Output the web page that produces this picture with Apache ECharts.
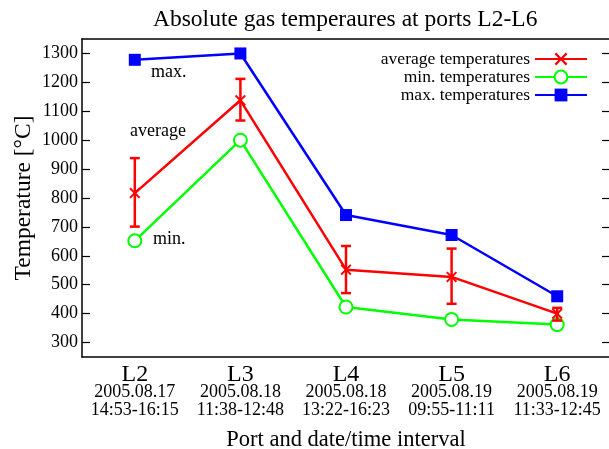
<!DOCTYPE html>
<html>
<head>
<meta charset="utf-8">
<script src="https://cdn.jsdelivr.net/npm/echarts@6/dist/echarts.min.js"></script>
<style>html,body{margin:0;padding:0;background:#fff}#c{width:609px;height:449px}</style>
</head>
<body>
<div id="c"></div>
<script>
const ports = ['L2', 'L3', 'L4', 'L5', 'L6'];
const dates = ['2005.08.17', '2005.08.18', '2005.08.18', '2005.08.19', '2005.08.19'];
const times = ['14:53-16:15', '11:38-12:48', '13:22-16:23', '09:55-11:11', '11:33-12:45'];
const avgTemps = [817, 1138, 552, 527, 400];
const avgLow = [701, 1068, 471, 434, 376];
const avgHigh = [938, 1212, 634, 625, 420];
const minTemps = [652, 1000, 423, 380, 362];
const maxTemps = [1278, 1300, 741, 672, 460];
const yTicks = [300, 400, 500, 600, 700, 800, 900, 1000, 1100, 1200, 1300];

const FONT = '"Liberation Serif", "Times New Roman", serif';
const RED = '#ff0000', GREEN = '#00ff00', BLUE = '#0000ff';
const crossPath = 'path://M0,2.5 L2.5,0 L10,7.5 L17.5,0 L20,2.5 L12.5,10 L20,17.5 L17.5,20 L10,12.5 L2.5,20 L0,17.5 L7.5,10 Z';

const errData = ports.map((p, i) => [i, avgLow[i], avgHigh[i]]);

const chart = echarts.init(document.getElementById('c'), null, {renderer: 'canvas'});
const yAxisCommon = {
  type: 'value', min: 250, max: 1350,
  axisLine: {show: true, lineStyle: {color: '#000', width: 1.5}},
  splitLine: {show: false},
  axisTick: {show: true, inside: true, length: 8, customValues: yTicks, lineStyle: {color: '#000', width: 1.2}}
};
chart.setOption({
  animation: false,
  backgroundColor: '#fff',
  title: {
    text: 'Absolute gas temperaures at ports L2-L6',
    left: 148, top: 3,
    textStyle: {fontFamily: FONT, fontSize: 23.5, fontWeight: 'normal', color: '#000'}
  },
  grid: {left: 82, top: 39, width: 528, height: 318, outerBoundsMode: 'none'},
  legend: {
    data: ['average temperatures', 'min. temperatures', 'max. temperatures'],
    orient: 'vertical', right: 16, top: 45, align: 'right',
    itemWidth: 52, itemHeight: 16, itemGap: 0,
    textStyle: {fontFamily: FONT, fontSize: 17.5, lineHeight: 18, color: '#000'}
  },
  xAxis: [{
    type: 'category', data: ports, position: 'bottom',
    axisLine: {lineStyle: {color: '#000', width: 1.5}},
    axisTick: {inside: true, alignWithLabel: true, length: 8, lineStyle: {color: '#000', width: 1.2}},
    axisLabel: {
      margin: 9, interval: 0,
      formatter: (v, i) => '{a|' + v + '}\n{b|' + dates[i] + '}\n{b|' + times[i] + '}',
      rich: {
        a: {fontFamily: FONT, fontSize: 24, lineHeight: 17, color: '#000'},
        b: {fontFamily: FONT, fontSize: 18, lineHeight: 18, color: '#000'}
      }
    },
    name: 'Port and date/time interval', nameLocation: 'middle', nameGap: 72, nameMoveOverlap: false,
    nameTextStyle: {fontFamily: FONT, fontSize: 22.5, color: '#000'}
  }, {
    type: 'category', data: ports, position: 'top',
    axisLine: {lineStyle: {color: '#000', width: 1.5}},
    axisTick: {inside: true, alignWithLabel: true, length: 8, lineStyle: {color: '#000', width: 1.2}},
    axisLabel: {show: false}
  }],
  yAxis: [Object.assign({}, yAxisCommon, {
    position: 'left',
    axisLabel: {show: true, customValues: yTicks, margin: 4, fontFamily: FONT, fontSize: 18, color: '#000',
      formatter: v => String(v)},
    name: 'Temperature [°C]', nameLocation: 'middle', nameGap: 46, nameMoveOverlap: false,
    nameTextStyle: {fontFamily: FONT, fontSize: 23.5, color: '#000'}
  }), Object.assign({}, yAxisCommon, {
    position: 'right',
    axisLabel: {show: false}
  })],
  series: [{
    name: 'average temperatures', type: 'line', data: avgTemps,
    symbol: crossPath, symbolSize: 11, z: 4,
    lineStyle: {color: RED, width: 2.5}, itemStyle: {color: RED}
  }, {
    name: 'min. temperatures', type: 'line', data: minTemps,
    symbol: 'emptyCircle', symbolSize: 13, z: 3,
    lineStyle: {color: GREEN, width: 2.5}, itemStyle: {color: GREEN, borderColor: GREEN, borderWidth: 2.5}
  }, {
    name: 'max. temperatures', type: 'line', data: maxTemps,
    symbol: 'rect', symbolSize: 12, z: 2,
    lineStyle: {color: BLUE, width: 2.5}, itemStyle: {color: BLUE}
  }, {
    type: 'custom', data: errData, z: 5,
    encode: {x: 0, y: [1, 2]},
    renderItem: (params, api) => {
      const lo = api.coord([api.value(0), api.value(1)]);
      const hi = api.coord([api.value(0), api.value(2)]);
      const w = 5;
      const st = {stroke: RED, lineWidth: 2.5, fill: null};
      return {type: 'group', children: [
        {type: 'line', shape: {x1: lo[0], y1: lo[1], x2: hi[0], y2: hi[1]}, style: st},
        {type: 'line', shape: {x1: lo[0] - w, y1: lo[1], x2: lo[0] + w, y2: lo[1]}, style: st},
        {type: 'line', shape: {x1: hi[0] - w, y1: hi[1], x2: hi[0] + w, y2: hi[1]}, style: st}
      ]};
    }
  }],
  graphic: [
    {type: 'text', left: 151, top: 63, style: {text: 'max.', fontFamily: FONT, fontSize: 18, fill: '#000'}},
    {type: 'text', left: 130, top: 122, style: {text: 'average', fontFamily: FONT, fontSize: 18, fill: '#000'}},
    {type: 'text', left: 153, top: 230, style: {text: 'min.', fontFamily: FONT, fontSize: 18, fill: '#000'}}
  ]
});
</script>
</body>
</html>
